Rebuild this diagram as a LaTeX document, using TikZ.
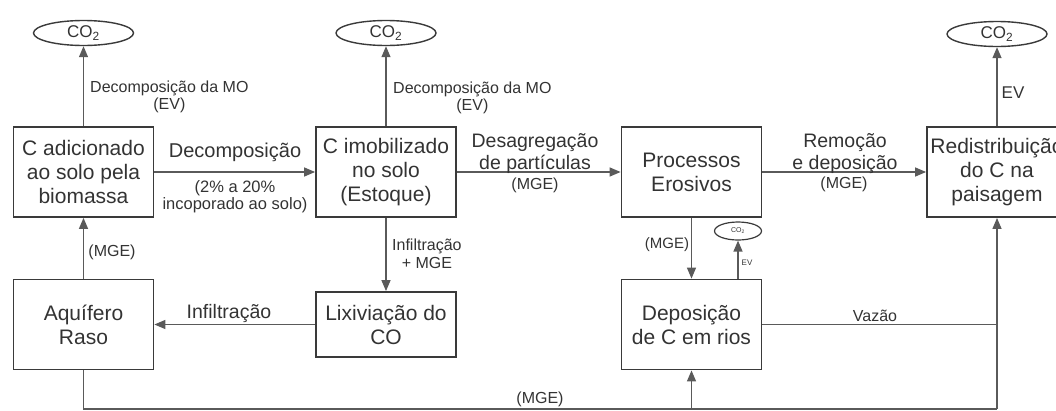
\documentclass[tikz,border=0pt]{standalone}
\usepackage{fontspec}
\setmainfont{Liberation Sans}
\usetikzlibrary{arrows.meta,shapes.geometric}

\definecolor{boxline}{HTML}{3A3A3A}
\definecolor{flowline}{HTML}{5A5A5A}
\definecolor{ink}{HTML}{333333}

\tikzset{
  stage/.style={draw=boxline, line width=1.8pt, minimum width=140pt, minimum height=90pt,
    inner sep=0pt, align=center, text=ink, font=\fontsize{21}{24}\selectfont},
  gas/.style={draw=boxline, line width=1.4pt, ellipse, minimum width=100pt, minimum height=25pt,
    inner sep=0pt, text=ink, font=\fontsize{17}{20}\selectfont},
  flow/.style={draw=flowline, line width=1.3pt, -{Triangle[length=11pt,width=9pt]}},
  pipe/.style={draw=flowline, line width=1.3pt},
  tag/.style={inner sep=0pt, align=center, text=ink},
}

\begin{document}
\begin{tikzpicture}[x=1pt, y=-1pt]
  \useasboundingbox (0,0) rectangle (1056,410);

  \node[stage] (bio) at (83.5,172) {C adicionado\\ao solo pela\\biomassa};
  \node[stage] (stock) at (386,172) {C imobilizado\\no solo\\(Estoque)};
  \node[stage] (erosion) at (691.5,172) {Processos\\Erosivos};
  \node[stage] (landscape) at (997,172) {Redistribuição\\do C na\\paisagem};
  \node[stage] (aquifer) at (83.5,324.5) {Aquífero\\Raso};
  \node[stage, minimum height=65pt] (leach) at (386,324.5) {Lixiviação do\\CO};
  \node[stage] (river) at (691.5,324.5) {Deposição\\de C em rios};

  \node[gas] (co2a) at (83.5,33) {CO\textsubscript{2}};
  \node[gas] (co2b) at (386,33) {CO\textsubscript{2}};
  \node[gas] (co2c) at (997,34) {CO\textsubscript{2}};
  \node[gas, minimum width=47pt, minimum height=18pt, line width=1.2pt,
    font=\fontsize{7}{8}\selectfont] (co2d) at (738,231) {CO\textsubscript{2}};

  \coordinate (b1) at (83.5,409);
  \coordinate (b3) at (691.5,409);
  \coordinate (b4) at (997,409);
  \coordinate (v4) at (997,324.5);

  \draw[flow] (bio) -- (co2a);
  \draw[flow] (stock) -- (co2b);
  \draw[flow] (landscape) -- (co2c);
  \draw[flow] (bio) -- (stock);
  \draw[flow] (stock) -- (erosion);
  \draw[flow] (erosion) -- (landscape);
  \draw[flow] (stock) -- (leach);
  \draw[flow] (leach) -- (aquifer);
  \draw[flow] (aquifer) -- (bio);
  \draw[flow] (erosion) -- (river);
  \draw[flow] (river.north -| co2d) -- (co2d);
  \draw[pipe] (aquifer) -- (b1) -- (b4);
  \draw[flow] (b4) -- (landscape);
  \draw[flow] (b3) -- (river);
  \draw[pipe] (river) -- (v4);

  \node[tag, anchor=west, font=\fontsize{16}{17}\selectfont] (mo1) at (90,96.5) {Decomposição da MO\\(EV)};
  \node[tag, anchor=west, font=\fontsize{16}{17}\selectfont] (mo2) at (393,97.5) {Decomposição da MO\\(EV)};
  \node[tag, font=\fontsize{17}{20}\selectfont] (ev1) at (1013,93) {EV};
  \node[tag, font=\fontsize{20}{24}\selectfont] (dec) at (235,152) {Decomposição};
  \node[tag, font=\fontsize{16.5}{17}\selectfont] (pct) at (235,196.5) {(2\% a 20\%\\incoporado ao solo)};
  \node[tag, anchor=south, font=\fontsize{19.5}{22}\selectfont] (dis) at (535,174) {Desagregação\\de partículas};
  \node[tag, font=\fontsize{16}{18}\selectfont] (mge1) at (535,185) {(MGE)};
  \node[tag, anchor=south, font=\fontsize{19.5}{22}\selectfont] (rem) at (845,174) {Remoção\\e deposição};
  \node[tag, font=\fontsize{16}{18}\selectfont] (mge2) at (844,184) {(MGE)};
  \node[tag, font=\fontsize{16}{18}\selectfont] (mge3) at (112,252) {(MGE)};
  \node[tag, anchor=west, font=\fontsize{16}{18}\selectfont] (inf1) at (392,254) {Infiltração\\+ MGE};
  \node[tag, font=\fontsize{19.5}{22}\selectfont] (inf2) at (229,313) {Infiltração};
  \node[tag, font=\fontsize{15}{18}\selectfont] (mge4) at (667,245) {(MGE)};
  \node[tag, font=\fontsize{8}{9}\selectfont] (ev2) at (747,263) {EV};
  \node[tag, font=\fontsize{16}{18}\selectfont] (vaz) at (875,316) {Vazão};
  \node[tag, font=\fontsize{16}{18}\selectfont] (mge5) at (540,399) {(MGE)};
\end{tikzpicture}
\end{document}
